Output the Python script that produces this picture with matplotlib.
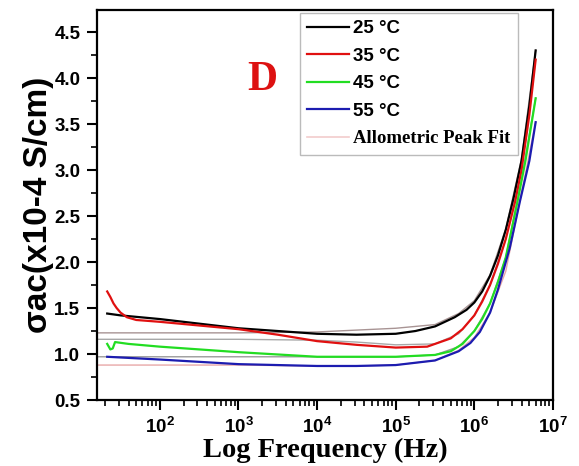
import numpy as np
import matplotlib
matplotlib.use("Agg")
import matplotlib.pyplot as plt

# values: log10(f) and sigma_ac (x10^-4 S/cm)
logf_25 = [1.33, 1.5, 2.0, 2.5, 3.0, 3.5, 4.0, 4.5, 5.0, 5.25, 5.5, 5.75, 5.9, 6.0, 6.1, 6.2, 6.3, 6.4, 6.5, 6.6, 6.7, 6.78]
sig_25 = [1.44, 1.42, 1.38, 1.33, 1.28, 1.25, 1.22, 1.21, 1.22, 1.25, 1.30, 1.40, 1.48, 1.56, 1.68, 1.85, 2.07, 2.35, 2.70, 3.10, 3.70, 4.30]

logf_35 = [1.33, 1.37, 1.41, 1.45, 1.5, 1.58, 1.7, 2.0, 2.5, 3.0, 3.5, 4.0, 4.5, 5.0, 5.4, 5.7, 5.85, 6.0, 6.1, 6.2, 6.3, 6.4, 6.52, 6.6, 6.7, 6.78]
sig_35 = [1.68, 1.62, 1.55, 1.50, 1.45, 1.40, 1.37, 1.35, 1.31, 1.27, 1.21, 1.14, 1.10, 1.07, 1.08, 1.17, 1.27, 1.42, 1.57, 1.75, 1.98, 2.25, 2.66, 3.00, 3.60, 4.20]

logf_45 = [1.33, 1.37, 1.40, 1.43, 1.6, 2.0, 3.0, 4.0, 5.0, 5.5, 5.7, 5.85, 6.0, 6.1, 6.2, 6.3, 6.4, 6.55, 6.65, 6.78]
sig_45 = [1.11, 1.05, 1.06, 1.13, 1.11, 1.08, 1.02, 0.97, 0.97, 0.99, 1.03, 1.11, 1.25, 1.38, 1.55, 1.78, 2.05, 2.66, 3.10, 3.78]

logf_55 = [1.33, 2.0, 3.0, 4.0, 4.5, 5.0, 5.5, 5.8, 5.95, 6.07, 6.2, 6.3, 6.45, 6.58, 6.7, 6.78]
sig_55 = [0.97, 0.94, 0.89, 0.87, 0.87, 0.88, 0.93, 1.03, 1.12, 1.24, 1.45, 1.70, 2.15, 2.66, 3.10, 3.52]

# allometric peak fits
fit_logf = [1.2, 3.0, 4.0, 4.5, 5.0, 5.5, 5.8, 6.0, 6.2, 6.4, 6.6, 6.78]
fit_25 = [1.23, 1.23, 1.24, 1.26, 1.28, 1.32, 1.44, 1.58, 1.86, 2.36, 3.12, 4.30]
fit_35 = [1.16, 1.16, 1.15, 1.13, 1.10, 1.11, 1.22, 1.42, 1.75, 2.25, 3.00, 4.20]
fit_45 = [0.97, 0.97, 0.97, 0.97, 0.97, 0.99, 1.08, 1.25, 1.55, 2.05, 2.90, 3.78]
fit_55 = [0.88, 0.88, 0.87, 0.87, 0.88, 0.93, 1.04, 1.18, 1.45, 1.90, 2.75, 3.52]

labels = ["25 °C", "35 °C", "45 °C", "55 °C"]
colors = ["black", "#e01010", "#22dd22", "#1c1cb0"]

fig = plt.figure(figsize=(5.79, 4.66), dpi=100)
ax = fig.add_axes([0.1675, 0.1416, 0.7875, 0.837])

ax.plot(10 ** np.array(fit_logf), fit_25, color="#a89494", lw=1.0)
ax.plot(10 ** np.array(fit_logf), fit_35, color="#a8a8a8", lw=1.0)
ax.plot(10 ** np.array(fit_logf), fit_45, color="#9a9a9a", lw=1.0)
ax.plot(10 ** np.array(fit_logf), fit_55, color="#e8a8a8", lw=1.0)

data = [(logf_25, sig_25), (logf_35, sig_35), (logf_45, sig_45), (logf_55, sig_55)]
handles = []
for (lf, s), lab, c in zip(data, labels, colors):
    h, = ax.plot(10 ** np.array(lf), s, color=c, lw=1.6, label=lab)
    handles.append(h)
hfit, = ax.plot([], [], color="#f2cccc", lw=1.2, label="Allometric Peak Fit")
handles.append(hfit)

ax.set_xscale("log")
ax.set_xlim(10 ** 1.2, 1e7)
ax.set_ylim(0.5, 4.74)
ax.set_yticks([0.5, 1.0, 1.5, 2.0, 2.5, 3.0, 3.5, 4.0, 4.5])
ax.set_yticks(np.arange(0.75, 4.6, 0.5), minor=True)
ax.set_xticks([1e2, 1e3, 1e4, 1e5, 1e6, 1e7])

for sp in ax.spines.values():
    sp.set_linewidth(1.6)
ax.tick_params(which="major", direction="out", length=7, width=1.5, labelsize=13.5, pad=5)
ax.tick_params(which="minor", direction="out", length=4, width=1.2)
ax.tick_params(axis="x", which="major", pad=5)
for t in ax.get_xticklabels() + ax.get_yticklabels():
    t.set_fontweight("bold")
    t.set_family(["Liberation Sans", "DejaVu Sans"])

ax.set_xlabel("Log Frequency (Hz)", fontsize=20.5, fontweight="bold",
              family="Liberation Serif", labelpad=1)
ax.set_ylabel("σac(x10-4 S/cm)", fontsize=24, fontweight="bold",
              family=["Liberation Sans", "DejaVu Sans"], labelpad=0)

ax.text(0.363, 0.82, "D", transform=ax.transAxes, color="#dd1111", fontsize=30,
        fontweight="bold", family="Liberation Serif", ha="center", va="center")

leg = ax.legend(handles=handles, loc="upper left", bbox_to_anchor=(0.445, 0.993),
                fontsize=13.5, handlelength=2.2, handletextpad=0.25, labelspacing=0.55,
                borderpad=0.4, frameon=True,
                fancybox=False, edgecolor="#aaaaaa", borderaxespad=0)
leg.get_frame().set_linewidth(1.0)
for i, t in enumerate(leg.get_texts()):
    t.set_fontweight("bold")
    if i == 4:
        t.set_family("Liberation Serif")
    else:
        t.set_family(["Liberation Sans", "DejaVu Sans"])

fig.savefig("out.png", dpi=100)
